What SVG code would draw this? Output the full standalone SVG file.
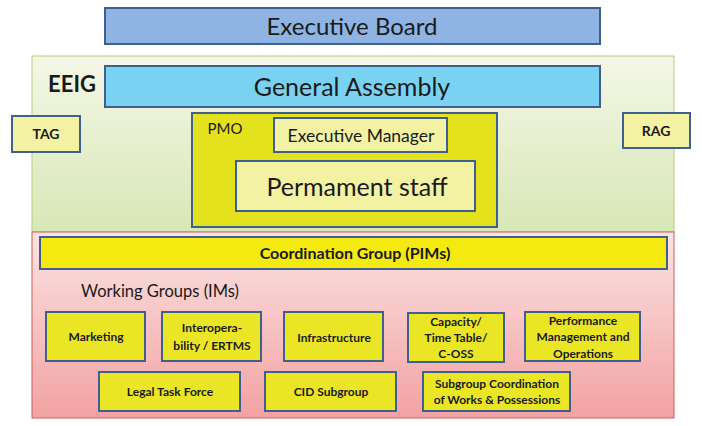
<svg xmlns="http://www.w3.org/2000/svg" width="702" height="426" viewBox="0 0 702 426">
<defs>
<linearGradient id="gGreen" x1="0" y1="0" x2="0" y2="1"><stop offset="0" stop-color="#F4F7E6"/><stop offset="1" stop-color="#D8E7B6"/></linearGradient>
<linearGradient id="gPink" x1="0" y1="0" x2="0" y2="1"><stop offset="0" stop-color="#FCE3E3"/><stop offset="1" stop-color="#F2A2A2"/></linearGradient>
</defs>
<style>
text{font-family:Lato,"Liberation Sans",sans-serif;fill:#1a1a1a;text-anchor:middle}
.box{stroke:#3F5F8F;stroke-width:2}
.lt{fill:#F3F1A2}
.yl{fill:#EAE625}
.sm{font-size:12px;font-weight:bold}
</style>
<rect width="702" height="426" fill="#fff"/>
<g id="eeig">
<rect x="32" y="56" width="642" height="176" fill="url(#gGreen)" stroke="#B5CC80" stroke-width="1"/>
<text x="72" y="92" style="font-size:22px;font-weight:bold">EEIG</text>
</g>
<g id="ims">
<rect x="32" y="232" width="642" height="186" fill="url(#gPink)" stroke="#C8605C" stroke-width="1"/>
<text x="81" y="297" style="font-size:16.5px;text-anchor:start">Working  Groups (IMs)</text>
</g>
<g id="executive-board">
<rect class="box" x="105" y="8" width="495" height="36" fill="#8FB3E2"/>
<text x="352" y="35" style="font-size:24px">Executive Board</text>
</g>
<g id="general-assembly">
<rect class="box" x="105" y="66" width="495" height="41" fill="#79D2F2"/>
<text x="352" y="96" style="font-size:25px">General Assembly</text>
</g>
<g id="tag">
<rect class="box lt" x="12" y="116" width="68" height="36"/>
<text x="46" y="139" style="font-size:14px;font-weight:bold">TAG</text>
</g>
<g id="rag">
<rect class="box lt" x="623" y="113" width="67" height="35"/>
<text x="656" y="136" style="font-size:14px;font-weight:bold">RAG</text>
</g>
<g id="pmo">
<rect class="box" x="192" y="113" width="305" height="114" fill="#E3E21D"/>
<text x="225" y="134" style="font-size:15px">PMO</text>
</g>
<g id="executive-manager">
<rect class="box lt" x="274" y="118" width="173" height="34"/>
<text x="361" y="142" style="font-size:17.5px">Executive Manager</text>
</g>
<g id="permanent-staff">
<rect class="box lt" x="236" y="161" width="239" height="50"/>
<text x="357" y="196" style="font-size:25px">Permament staff</text>
</g>
<g id="coordination-group">
<rect class="box" x="40" y="237" width="627" height="32" fill="#F4EA10"/>
<text x="355" y="259" style="font-size:16px;font-weight:bold">Coordination Group (PIMs)</text>
</g>
<g id="marketing">
<rect class="box yl" x="46" y="312" width="99" height="49"/>
<text class="sm" x="96" y="341">Marketing</text>
</g>
<g id="interoperability">
<rect class="box yl" x="162" y="312" width="99" height="49"/>
<text class="sm" x="212" y="332">Interopera-</text>
<text class="sm" x="212" y="350">bility / ERTMS</text>
</g>
<g id="infrastructure">
<rect class="box yl" x="284" y="312" width="99" height="49"/>
<text class="sm" x="334" y="342">Infrastructure</text>
</g>
<g id="capacity">
<rect class="box yl" x="408" y="313" width="96" height="49"/>
<text class="sm" x="456" y="326">Capacity/</text>
<text class="sm" x="456" y="342">Time Table/</text>
<text class="sm" x="456" y="358">C-OSS</text>
</g>
<g id="performance">
<rect class="box yl" x="525" y="312" width="115" height="49"/>
<text class="sm" x="583" y="325">Performance</text>
<text class="sm" x="583" y="341">Management and</text>
<text class="sm" x="583" y="358">Operations</text>
</g>
<g id="legal-task-force">
<rect class="box yl" x="99" y="372" width="141" height="39"/>
<text class="sm" x="170" y="396">Legal Task Force</text>
</g>
<g id="cid-subgroup">
<rect class="box yl" x="265" y="372" width="131" height="39"/>
<text class="sm" x="331" y="396">CID Subgroup</text>
</g>
<g id="subgroup-coordination">
<rect class="box yl" x="423" y="372" width="147" height="39"/>
<text class="sm" x="497" y="388">Subgroup Coordination</text>
<text class="sm" x="497" y="404">of Works &amp; Possessions</text>
</g>
<g id="connectors"></g>
</svg>
